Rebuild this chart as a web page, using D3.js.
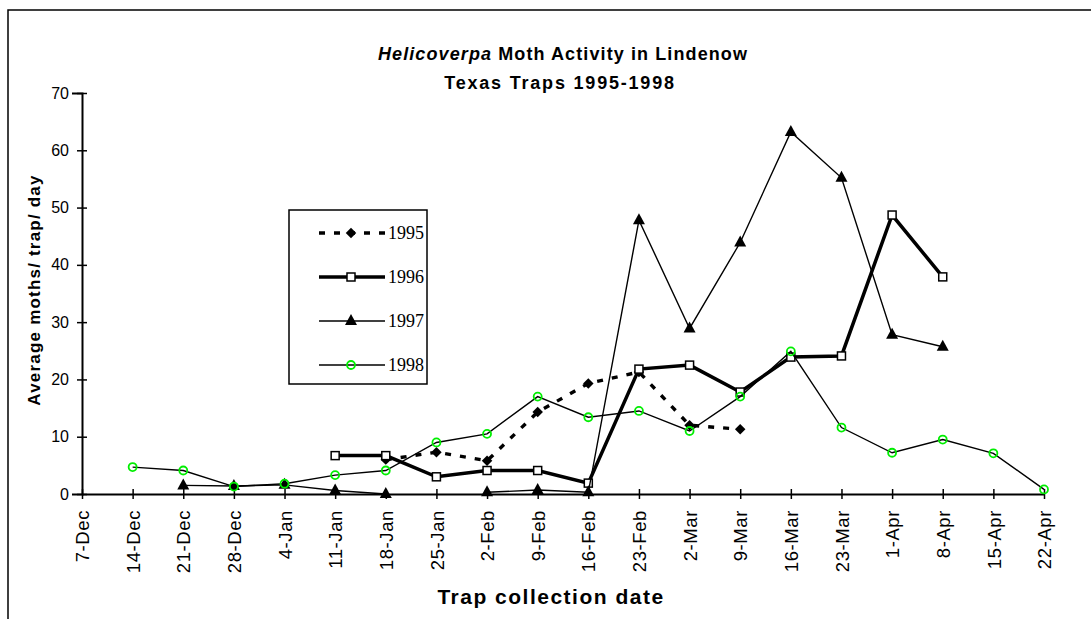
<!DOCTYPE html>
<html>
<head>
<meta charset="utf-8">
<script src="https://cdn.jsdelivr.net/npm/d3@7"></script>
<style>
  body { margin: 0; background: #fff; }
  svg { display: block; font-family: "Liberation Sans", Arial, sans-serif; }
</style>
</head>
<body>
<svg id="chart" width="1091" height="619"></svg>
<script>
// trap collection dates (category axis)
const dates = ["7-Dec", "14-Dec", "21-Dec", "28-Dec", "4-Jan", "11-Jan", "18-Jan", "25-Jan",
  "2-Feb", "9-Feb", "16-Feb", "23-Feb", "2-Mar", "9-Mar", "16-Mar", "23-Mar",
  "1-Apr", "8-Apr", "15-Apr", "22-Apr"];

// average moths / trap / day, null = no collection
const v1995 = [null, null, null, null, null, null, 6.0, 7.3, 5.8, 14.3, 19.3, 21.3, 12.0, 11.3,
  null, null, null, null, null, null];
const v1996 = [null, null, null, null, null, 6.7, 6.7, 3.0, 4.1, 4.1, 1.9, 21.8, 22.5, 17.8,
  23.9, 24.1, 48.7, 37.9, null, null];
const v1997 = [null, null, 1.5, 1.4, 1.6, 0.6, 0.0, null, 0.3, 0.7, 0.3, 47.8, 28.9, 43.9,
  63.2, 55.2, 27.8, 25.7, null, null];
const v1998 = [null, 4.7, 4.1, 1.3, 1.8, 3.3, 4.1, 9.0, 10.5, 17.0, 13.4, 14.5, 11.0, 17.0,
  24.9, 11.6, 7.2, 9.5, 7.1, 0.8];

const yTicks = [0, 10, 20, 30, 40, 50, 60, 70];

const series = [
  { name: "1995", values: v1995, width: 3.4, dash: "6,9", marker: "diamond" },
  { name: "1996", values: v1996, width: 3.5, dash: null, marker: "square" },
  { name: "1997", values: v1997, width: 1.4, dash: null, marker: "triangle" },
  { name: "1998", values: v1998, width: 1.4, dash: null, marker: "circle" }
];

const svg = d3.select("#chart");

// outer frame
svg.append("rect")
  .attr("x", 8).attr("y", 10)
  .attr("width", 1200).attr("height", 700)
  .attr("fill", "none").attr("stroke", "#000").attr("stroke-width", 1.5);

const x = d3.scalePoint().domain(dates).range([82, 1044]);
const y = d3.scaleLinear().domain([0, 70]).range([494, 93]);

// Y axis
const yAxis = svg.append("g")
  .attr("transform", "translate(82,0)")
  .call(d3.axisLeft(y).tickValues(yTicks).tickSize(10));
yAxis.select(".domain").attr("stroke-width", 2);
yAxis.selectAll(".tick line").attr("transform", "translate(5,0)").attr("stroke-width", 1.5);
yAxis.selectAll("text").attr("font-size", 16).attr("fill", "#000").attr("x", -13)
  .attr("font-family", "Liberation Sans, Arial, sans-serif");

// X axis
const xAxis = svg.append("g")
  .attr("transform", "translate(0,494)")
  .call(d3.axisBottom(x).tickSize(10).tickSizeOuter(0));
xAxis.select(".domain").attr("stroke-width", 2);
xAxis.selectAll(".tick line").attr("transform", "translate(0,-5)").attr("stroke-width", 1.5);
xAxis.selectAll("text")
  .attr("font-size", 18.5)
  .attr("fill", "#000")
  .attr("font-family", "Liberation Sans, Arial, sans-serif")
  .style("letter-spacing", "0.6px")
  .attr("transform", "rotate(-90)")
  .attr("text-anchor", "end")
  .attr("x", -16)
  .attr("y", 0)
  .attr("dy", "0.36em");

// marker drawing
const markerFns = {
  diamond: g => g.append("path").attr("d", d3.symbol(d3.symbolDiamond2, 70)()).attr("fill", "#000"),
  square: g => g.append("rect").attr("x", -4).attr("y", -4).attr("width", 8).attr("height", 8)
    .attr("fill", "#fff").attr("stroke", "#000").attr("stroke-width", 1.5),
  triangle: g => g.append("path").attr("d", "M0,-7L6,4L-6,4Z").attr("fill", "#000"),
  circle: g => g.append("circle").attr("r", 4).attr("fill", "none")
    .attr("stroke", "#00ee00").attr("stroke-width", 1.8)
};

const line = d3.line()
  .defined(d => d.v !== null)
  .x(d => x(d.date))
  .y(d => y(d.v));

const plot = svg.append("g");
series.forEach(s => {
  const pts = dates.map((date, i) => ({ date, v: s.values[i] }));
  plot.append("path")
    .datum(pts)
    .attr("d", line)
    .attr("fill", "none")
    .attr("stroke", "#000")
    .attr("stroke-width", s.width)
    .attr("stroke-dasharray", s.dash);
  pts.filter(d => d.v !== null).forEach(d => {
    const g = plot.append("g").attr("transform", `translate(${x(d.date)},${y(d.v)})`);
    markerFns[s.marker](g);
  });
});

// Legend
const legend = svg.append("g");
legend.append("rect")
  .attr("x", 289).attr("y", 210).attr("width", 138).attr("height", 174)
  .attr("fill", "#fff").attr("stroke", "#000").attr("stroke-width", 1.5);
series.forEach((s, i) => {
  const ly = 233 + i * 44;
  legend.append("line")
    .attr("x1", 319).attr("x2", 385).attr("y1", ly).attr("y2", ly)
    .attr("stroke", "#000").attr("stroke-width", s.width)
    .attr("stroke-dasharray", s.dash);
  markerFns[s.marker](legend.append("g").attr("transform", `translate(351,${ly})`));
  legend.append("text")
    .attr("x", 388).attr("y", ly + 6)
    .attr("font-family", "Liberation Serif, Times New Roman, serif")
    .attr("font-size", 18)
    .text(s.name);
});

// Title
const title = svg.append("text")
  .attr("x", 563).attr("y", 60)
  .attr("text-anchor", "middle")
  .attr("font-size", 18).attr("font-weight", "bold")
  .style("letter-spacing", "1.1px");
title.append("tspan").attr("font-style", "italic").text("Helicoverpa");
title.append("tspan").text(" Moth Activity in Lindenow");
svg.append("text")
  .attr("x", 560).attr("y", 89)
  .attr("text-anchor", "middle")
  .attr("font-size", 18).attr("font-weight", "bold")
  .style("letter-spacing", "1.8px")
  .text("Texas Traps 1995-1998");

// Axis titles
svg.append("text")
  .attr("transform", "translate(40,290)rotate(-90)")
  .attr("text-anchor", "middle")
  .attr("font-size", 17).attr("font-weight", "bold")
  .style("letter-spacing", "1.2px")
  .text("Average moths/ trap/ day");

svg.append("text")
  .attr("x", 551).attr("y", 604)
  .attr("text-anchor", "middle")
  .attr("font-size", 21).attr("font-weight", "bold")
  .style("letter-spacing", "1.5px")
  .text("Trap collection date");
</script>
</body>
</html>
